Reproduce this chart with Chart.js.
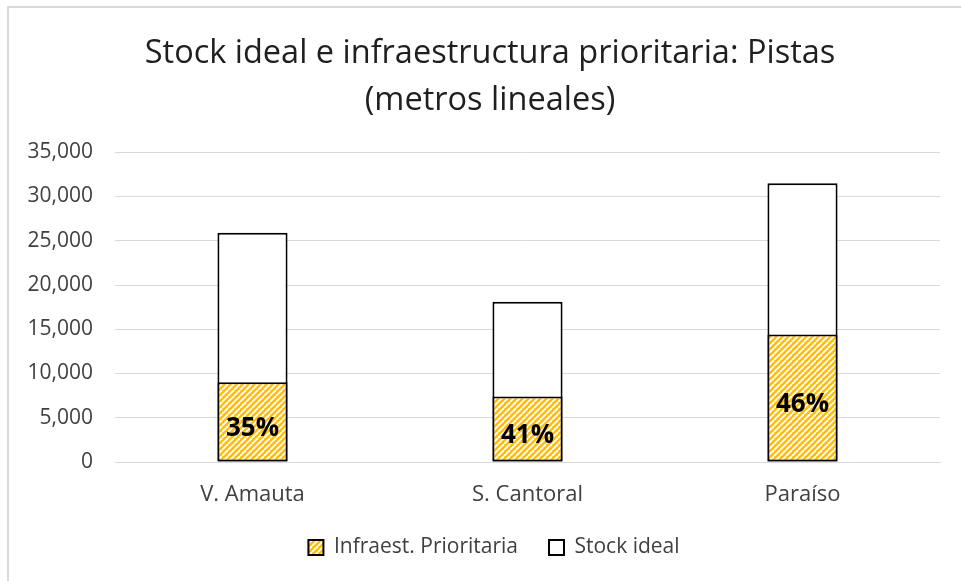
<!DOCTYPE html>
<html>
<head>
<meta charset="utf-8">
<script src="https://cdn.jsdelivr.net/npm/chart.js@4.4.1/dist/chart.umd.min.js"></script>
<style>
  html, body { margin: 0; padding: 0; background: #ffffff; }
  #wrap { width: 961px; height: 581px; position: relative; }
</style>
</head>
<body>
<div id="wrap"><canvas id="chart" width="961" height="581"></canvas></div>
<script>
// Pistas: stock ideal vs infraestructura prioritaria (metros lineales)
const categories = ['V. Amauta', 'S. Cantoral', 'Paraíso'];
const infraPrioritaria = [9000, 7400, 14400];
const stockIdeal = [25900, 18100, 31500];
const yTickStep = 5000;
const yMax = 35000;

const FONT = "'Open Sans', 'Noto Sans', sans-serif";

// Diagonal gold/white hatch used for the priority-infrastructure bars
function makeHatch() {
  const c = document.createElement('canvas');
  c.width = 6; c.height = 6;
  const g = c.getContext('2d');
  g.fillStyle = '#FFC000';
  g.fillRect(0, 0, 6, 6);
  g.strokeStyle = '#ffffff';
  g.lineWidth = 1.8;
  for (const off of [-6, 0, 6]) {
    g.beginPath();
    g.moveTo(off, 6);
    g.lineTo(off + 6, 0);
    g.stroke();
  }
  return g.createPattern(c, 'repeat');
}
const hatch = makeHatch();

// Thin frame along the top and left edges of the chart
const framePlugin = {
  id: 'frame',
  beforeDraw(chart) {
    const ctx = chart.ctx;
    ctx.save();
    ctx.fillStyle = '#ffffff';
    ctx.fillRect(0, 0, chart.width, chart.height);
    ctx.strokeStyle = '#d9d9d9';
    ctx.lineWidth = 2;
    ctx.beginPath();
    ctx.moveTo(8, chart.height);
    ctx.lineTo(8, 7);
    ctx.lineTo(chart.width, 7);
    ctx.stroke();
    ctx.restore();
  }
};

// Title and legend are centred on the whole chart object, which reaches
// a little past the right edge of the canvas
const centreShift = {
  id: 'centreShift',
  afterLayout(chart) {
    const t = chart.titleBlock, l = chart.legend;
    if (t) { t.left += 15; t.right += 15; }
    if (l) { l.left += 19; l.right += 19; }
  }
};

// Share of the ideal stock covered by priority infrastructure
const percentPlugin = {
  id: 'percentLabels',
  afterDatasetsDraw(chart) {
    const ctx = chart.ctx;
    const meta = chart.getDatasetMeta(0);
    ctx.save();
    ctx.font = "bold 26px " + FONT;
    ctx.fillStyle = '#000000';
    ctx.textAlign = 'center';
    ctx.textBaseline = 'middle';
    meta.data.forEach((bar, i) => {
      const pct = Math.round(infraPrioritaria[i] / stockIdeal[i] * 100);
      const y = (bar.y + bar.base) / 2 + 7;
      ctx.fillText(pct + '%', bar.x, y);
    });
    ctx.restore();
  }
};

new Chart(document.getElementById('chart'), {
  type: 'bar',
  data: {
    labels: categories,
    datasets: [
      {
        label: 'Infraest. Prioritaria',
        data: infraPrioritaria,
        backgroundColor: hatch,
        borderColor: '#000000',
        borderWidth: 2,
        borderSkipped: false
      },
      {
        label: 'Stock ideal',
        data: stockIdeal,
        backgroundColor: '#ffffff',
        borderColor: '#000000',
        borderWidth: 2,
        borderSkipped: false
      }
    ]
  },
  options: {
    responsive: false,
    animation: false,
    devicePixelRatio: 1,
    layout: { padding: { left: 10, right: 21, top: 0, bottom: 13 } },
    datasets: { bar: { barPercentage: 0.255, categoryPercentage: 1.0 } },
    scales: {
      x: {
        stacked: true,
        afterFit(scale) { scale.height = 44; },
        grid: { display: false, drawTicks: false },
        border: { display: true, color: '#d9d9d9', width: 1 },
        ticks: { padding: 20, color: '#404040', font: { family: FONT, size: 22 } }
      },
      y: {
        stacked: false,
        min: 0,
        max: yMax,
        afterFit(scale) { scale.width = 105; },
        grid: { color: '#d9d9d9', lineWidth: 1, drawTicks: false },
        border: { display: false },
        ticks: {
          stepSize: yTickStep,
          padding: 22,
          color: '#404040',
          font: { family: FONT, size: 21 },
          callback: (v) => v.toLocaleString('en-US')
        }
      }
    },
    plugins: {
      title: {
        display: true,
        text: ['Stock ideal e infraestructura prioritaria: Pistas', '(metros lineales)'],
        color: '#1f1f1f',
        font: { family: FONT, size: 32.5, weight: 'normal', lineHeight: 1.45 },
        padding: { top: 30, bottom: 28 }
      },
      legend: {
        position: 'bottom',
        labels: {
          boxWidth: 15,
          boxHeight: 15,
          padding: 31,
          color: '#404040',
          font: { family: FONT, size: 21 }
        }
      },
      tooltip: { enabled: false }
    }
  },
  plugins: [framePlugin, centreShift, percentPlugin]
});
</script>
</body>
</html>
